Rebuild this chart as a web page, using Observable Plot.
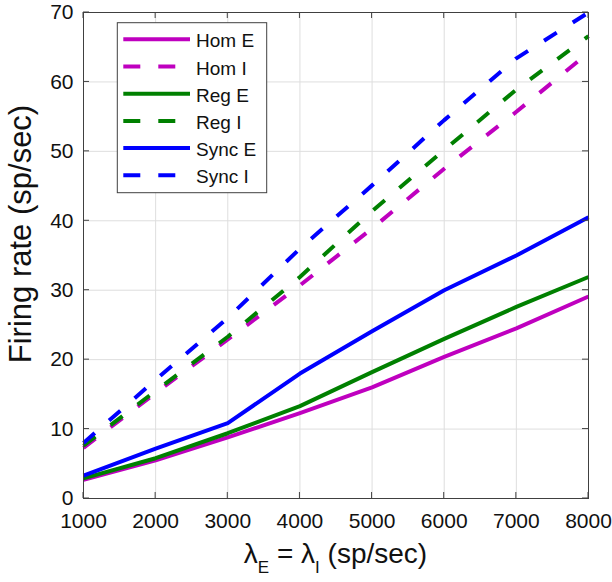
<!DOCTYPE html>
<html>
<head>
<meta charset="utf-8">
<script src="https://cdn.jsdelivr.net/npm/d3@7"></script>
<script src="https://cdn.jsdelivr.net/npm/@observablehq/plot@0.6"></script>
<style>
  html, body { margin: 0; padding: 0; background: #fff; }
  #chart svg { display: block; }
</style>
</head>
<body>
<div id="chart"></div>
<script>
// ---- data ----
const rates = [1000, 2000, 3000, 4000, 5000, 6000, 7000, 8000];
const homE  = [2.7, 5.5, 8.8, 12.3, 16.0, 20.4, 24.5, 29.1];
const homI  = [7.3, 15.2, 22.9, 30.7, 38.9, 47.5, 55.7, 64.2];
const regE  = [2.9, 5.8, 9.4, 13.3, 18.2, 23.0, 27.6, 31.9];
const regI  = [7.6, 15.5, 23.3, 31.9, 41.4, 50.2, 58.9, 66.6];
const syncE = [3.3, 7.2, 10.85, 18.0, 24.1, 30.0, 35.0, 40.5];
const syncI = [8.0, 17.1, 26.0, 36.0, 45.1, 54.5, 63.4, 70.0];
const seriesNames = ["Hom E", "Hom I", "Reg E", "Reg I", "Sync E", "Sync I"];
const seriesValues = [homE, homI, regE, regI, syncE, syncI];
const xTicks = [1000, 2000, 3000, 4000, 5000, 6000, 7000, 8000];
const yTicks = [0, 10, 20, 30, 40, 50, 60, 70];

// ---- styles ----
const colorOf = {"Hom": "#BF00BF", "Reg": "#008000", "Sync": "#0000FF"};
const DASH = "15,19";
const styleOf = name => {
  const [grp, kind] = name.split(" ");
  return {color: colorOf[grp], dash: kind === "I" ? DASH : null};
};

const rows = [];
seriesNames.forEach((name, i) => {
  rates.forEach((r, j) => rows.push({series: name, x: r, y: seriesValues[i][j]}));
});

const W = 612, H = 582;
const font = "'Liberation Sans', Arial, Helvetica, sans-serif";

const marks = [
  Plot.gridX(xTicks, {stroke: "#dedede", strokeOpacity: 1, strokeWidth: 1}),
  Plot.gridY(yTicks, {stroke: "#dedede", strokeOpacity: 1, strokeWidth: 1}),
];
seriesNames.forEach(name => {
  const s = styleOf(name);
  marks.push(Plot.line(rows.filter(d => d.series === name), {
    x: "x", y: "y", stroke: s.color, strokeWidth: 4,
    strokeDasharray: s.dash, strokeLinejoin: "round", strokeLinecap: "butt"
  }));
});
marks.push(
  Plot.frame({stroke: "#404040", strokeWidth: 1}),
  Plot.axisX(xTicks, {tickSize: 0, tickPadding: 15, fontSize: 21, fill: "#111", label: null, tickFormat: d => String(d)}),
  Plot.axisY(yTicks, {tickSize: 0, tickPadding: 10, fontSize: 21, fill: "#111", label: null})
);

const plot = Plot.plot({
  width: W, height: H,
  marginLeft: 83, marginRight: 24, marginTop: 12, marginBottom: 84,
  x: {domain: [1000, 8000]},
  y: {domain: [0, 70]},
  style: {fontFamily: font, background: "#fff", overflow: "visible"},
  marks
});
document.getElementById("chart").appendChild(plot);

// ---- inward ticks, labels, legend ----
const svg = d3.select(plot);
const xs = plot.scale("x"), ys = plot.scale("y");
const X0 = xs.apply(1000), X1 = xs.apply(8000);
const Y0 = ys.apply(0), Y1 = ys.apply(70);
const tl = 6;
const tg = svg.append("g").attr("stroke", "#404040").attr("stroke-width", 1);
xTicks.forEach(t => {
  const x = xs.apply(t);
  tg.append("line").attr("x1", x).attr("x2", x).attr("y1", Y0).attr("y2", Y0 - tl);
  tg.append("line").attr("x1", x).attr("x2", x).attr("y1", Y1).attr("y2", Y1 + tl);
});
yTicks.forEach(t => {
  const y = ys.apply(t);
  tg.append("line").attr("x1", X0).attr("x2", X0 + tl).attr("y1", y).attr("y2", y);
  tg.append("line").attr("x1", X1).attr("x2", X1 - tl).attr("y1", y).attr("y2", y);
});

// x label with subscripts
const xl = svg.append("text")
  .attr("x", (X0 + X1) / 2).attr("y", 563)
  .attr("text-anchor", "middle")
  .attr("font-family", font).attr("font-size", 28).attr("fill", "#111");
xl.append("tspan").text("λ");
xl.append("tspan").attr("font-size", 17).attr("dy", 10).text("E");
xl.append("tspan").attr("dy", -10).text(" = λ");
xl.append("tspan").attr("font-size", 17).attr("dy", 10).text("I");
xl.append("tspan").attr("dy", -10).text(" (sp/sec)");

// y label
svg.append("text")
  .attr("transform", `translate(31,${(Y0 + Y1) / 2 - 21}) rotate(-90)`)
  .attr("text-anchor", "middle")
  .attr("font-family", font).attr("font-size", 31).attr("fill", "#111")
  .text("Firing rate (sp/sec)");

// legend
const lg = svg.append("g");
const LX = X0 + 34.3, LY = Y1 + 10.7, LW = 149.4, LH = 170;
lg.append("rect").attr("x", LX).attr("y", LY).attr("width", LW).attr("height", LH)
  .attr("fill", "#fff").attr("stroke", "#404040").attr("stroke-width", 1);
seriesNames.forEach((name, i) => {
  const s = styleOf(name);
  const cy = LY + 16.6 + i * 27.2;
  lg.append("line").attr("x1", LX + 6).attr("x2", LX + 72.7).attr("y1", cy).attr("y2", cy)
    .attr("stroke", s.color).attr("stroke-width", 4)
    .attr("stroke-dasharray", s.dash ? "17,18" : null);
  lg.append("text").attr("x", LX + 78.7).attr("y", cy + 8)
    .attr("text-anchor", "start")
    .attr("font-family", font).attr("font-size", 19).attr("fill", "#111")
    .text(name);
});
</script>
</body>
</html>
